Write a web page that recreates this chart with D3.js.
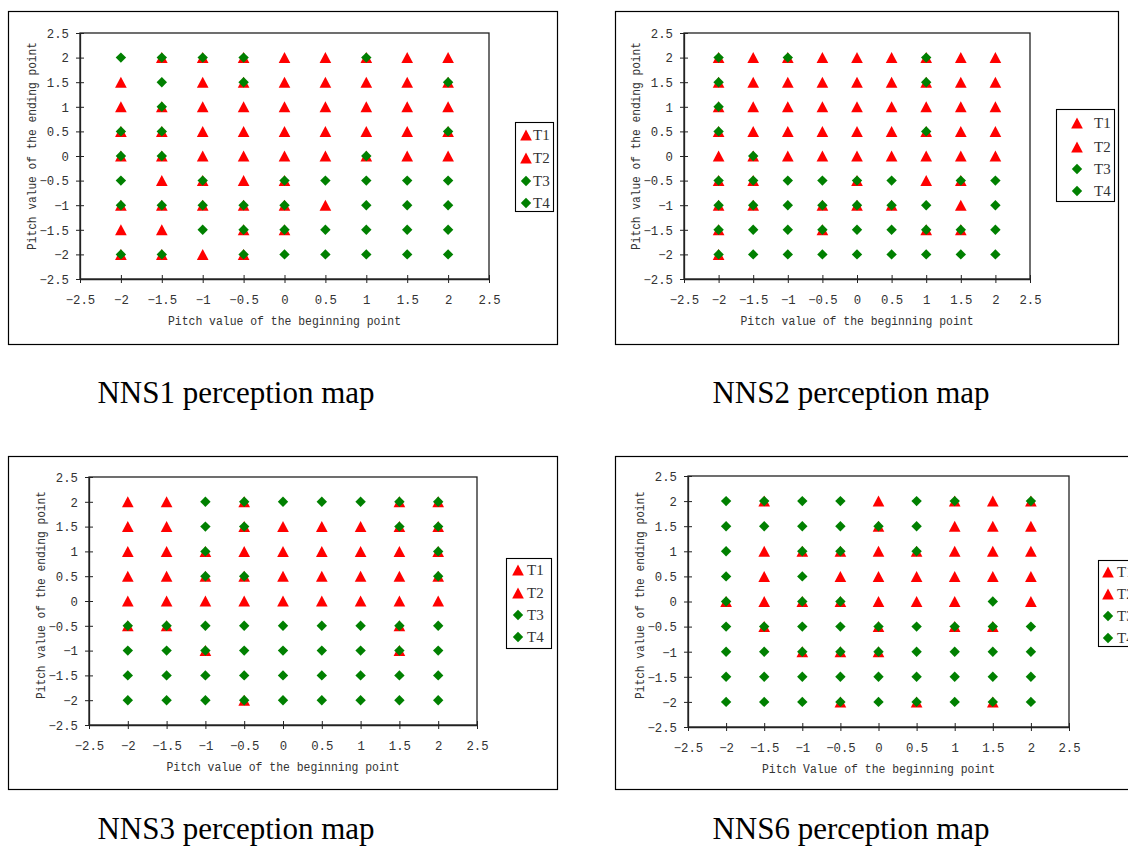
<!DOCTYPE html>
<html>
<head>
<meta charset="utf-8">
<script src="https://cdn.jsdelivr.net/npm/d3@7"></script>
<style>
  html, body { margin: 0; padding: 0; background: #fff; }
  svg { display: block; }
  .tick-text { font-family: "Liberation Mono", "DejaVu Sans Mono", monospace; font-size: 12.3px; fill: #333; }
  .axis-title { font-family: "Liberation Mono", "DejaVu Sans Mono", monospace; font-size: 12.3px; fill: #333; }
  .legend-text { font-family: "Liberation Serif", serif; font-size: 15px; fill: #333; }
  .panel-title { font-family: "Liberation Serif", "Times New Roman", serif; font-size: 31px; fill: #000; }
</style>
</head>
<body>
<div id="chart"></div>
<script>
// Stimulus grid: pitch value of beginning point (x) and ending point (y)
const beginValues = [-2, -1.5, -1, -0.5, 0, 0.5, 1, 1.5, 2];
const endValues = [2, 1.5, 1, 0.5, 0, -0.5, -1, -1.5, -2];

// Axis ticks and their labels
const axisTicks = [-2.5, -2, -1.5, -1, -0.5, 0, 0.5, 1, 1.5, 2, 2.5];
const axisTickLabels = ["−2.5", "−2", "−1.5", "−1", "−0.5", "0", "0.5", "1", "1.5", "2", "2.5"];

// Legend entries
const toneNames = ["T1", "T2", "T3", "T4"];
const toneShapes = ["triangle", "triangle", "diamond", "diamond"];

// Perceived tone per stimulus, one string per ending value (rows 2 .. -2),
// one character per beginning value (-2 .. 2):
// T = perceived as T1/T2, D = perceived as T3/T4, B = both responses
const nns1Map = [
  "DBBBTTBTT",
  "TDTBTTTTB",
  "TBTTTTTTT",
  "BBTTTTTTB",
  "BBTTTTBTT",
  "DTBTBDDDD",
  "BBBBBTDDD",
  "TTDBBDDDD",
  "BBTBDDDDD"
];
const nns2Map = [
  "BTBTTTBTT",
  "BTTTTTBTT",
  "BTTTTTTTT",
  "BTTTTTBTT",
  "TBTTTTTTT",
  "BBDDBDTBD",
  "BBDBBBDTD",
  "BDDBDDBBD",
  "BDDDDDDDD"
];
const nns3Map = [
  "TTDBDDDBB",
  "TTDBTTTBB",
  "TTBTTTTTB",
  "TTBBTTTTB",
  "TTTTTTTTT",
  "BBDDDDDBD",
  "DDBDDDDBD",
  "DDDDDDDDD",
  "DDDBDDDDD"
];
const nns6Map = [
  "DBDDTDBTB",
  "DDDDBDTTT",
  "DTBBTBTTT",
  "DTDTTTTTT",
  "BTBBTTTDT",
  "DBDDBDBBD",
  "DDBBBDDDD",
  "DDDDDDDDD",
  "DDDBDBDBD"
];

const panelTitles = ["NNS1 perception map", "NNS2 perception map", "NNS3 perception map", "NNS6 perception map"];
const xAxisTitles = [
  "Pitch value of the beginning point",
  "Pitch value of the beginning point",
  "Pitch value of the beginning point",
  "Pitch Value of the beginning point"
];
const yAxisTitle = "Pitch value of the ending point";
const panelMaps = [nns1Map, nns2Map, nns3Map, nns6Map];

// Page layout for the four panels
const layouts = [
  { frame: [8, 11, 557, 344], plot: [80, 33, 489, 279], legend: { x0: 515, y0: 122, x1: 553, y1: 211, sym: 526, txt: 533, rows: [135, 158, 181, 203] }, title: [236, 403], yTitleY: 146 },
  { frame: [615, 11, 1118, 344], plot: [684, 33, 1030, 279], legend: { x0: 1056, y0: 109, x1: 1114, y1: 201, sym: 1077, txt: 1094, rows: [123, 147, 169, 191] }, title: [851, 403], yTitleY: 146 },
  { frame: [8, 456, 557, 789], plot: [89, 477, 477, 725], legend: { x0: 506, y0: 558, x1: 551, y1: 648, sym: 518, txt: 527, rows: [570, 593, 615, 637] }, title: [236, 839], yTitleY: 595 },
  { frame: [615, 456, 1140, 789], plot: [688, 476, 1069, 727], legend: { x0: 1098, y0: 560, x1: 1140, y1: 646, sym: 1108, txt: 1117, rows: [572, 594, 616, 638] }, title: [851, 839], yTitleY: 595 }
];

const RED = "#ff0000";
const GREEN = "#008000";

// Triangle symbol centred on its bounding box, diamond as a square turned 45 degrees
const boxTriangle = {
  draw(ctx, size) {
    const h = Math.sqrt(size);
    ctx.moveTo(0, -h / 2);
    ctx.lineTo(h * 0.53, h / 2);
    ctx.lineTo(-h * 0.53, h / 2);
    ctx.closePath();
  }
};
const squareDiamond = {
  draw(ctx, size) {
    const r = Math.sqrt(size) / 2;
    ctx.moveTo(0, -r);
    ctx.lineTo(r, 0);
    ctx.lineTo(0, r);
    ctx.lineTo(-r, 0);
    ctx.closePath();
  }
};
const triPath = d3.symbol().type(boxTriangle).size(11 * 11)();
const diaPath = d3.symbol().type(squareDiamond).size(10.4 * 10.4)();

const svg = d3.select("#chart").append("svg")
  .attr("width", 1128).attr("height", 846)
  .attr("viewBox", "0 0 1128 846");
svg.append("rect").attr("width", 1128).attr("height", 846).attr("fill", "#fff");

const labelOf = v => axisTickLabels[axisTicks.indexOf(v)];

layouts.forEach((L, i) => {
  const g = svg.append("g");
  const [fx0, fy0, fx1, fy1] = L.frame;
  const [px0, py0, px1, py1] = L.plot;

  g.append("rect")
    .attr("x", fx0 + 0.5).attr("y", fy0 + 0.5)
    .attr("width", fx1 - fx0).attr("height", fy1 - fy0)
    .attr("fill", "#fff").attr("stroke", "#000").attr("stroke-width", 1.2);

  const x = d3.scaleLinear().domain([-2.5, 2.5]).range([px0, px1]);
  const y = d3.scaleLinear().domain([-2.5, 2.5]).range([py1, py0]);

  // plot area border
  g.append("rect")
    .attr("x", px0).attr("y", py0)
    .attr("width", px1 - px0).attr("height", py1 - py0)
    .attr("fill", "none").attr("stroke", "#222").attr("stroke-width", 1.3);

  // x axis with ticks crossing the line
  const xAxis = g.append("g")
    .attr("transform", `translate(0,${py1})`)
    .call(d3.axisBottom(x).tickValues(axisTicks).tickFormat(labelOf).tickSize(4).tickSizeOuter(0));
  xAxis.select(".domain").attr("stroke", "#222").attr("stroke-width", 1.3);
  xAxis.selectAll(".tick line").attr("y1", -4).attr("y2", 4).attr("stroke", "#222");
  xAxis.selectAll(".tick text").attr("class", "tick-text").attr("y", 21).attr("dy", "0.35em").attr("fill", null);
  xAxis.attr("font-family", null).attr("font-size", null);

  const yAxis = g.append("g")
    .attr("transform", `translate(${px0},0)`)
    .call(d3.axisLeft(y).tickValues(axisTicks).tickFormat(labelOf).tickSize(4).tickSizeOuter(0));
  yAxis.select(".domain").attr("stroke", "#222").attr("stroke-width", 1.3);
  yAxis.selectAll(".tick line").attr("x1", -4).attr("x2", 4).attr("stroke", "#222");
  yAxis.selectAll(".tick text").attr("class", "tick-text").attr("x", -11).attr("dy", "0.35em").attr("fill", null);
  yAxis.attr("font-family", null).attr("font-size", null);

  // axis titles
  g.append("text").attr("class", "axis-title")
    .attr("x", (px0 + px1) / 2).attr("y", py1 + 42).attr("dy", "0.35em")
    .attr("text-anchor", "middle")
    .attr("textLength", 233).attr("lengthAdjust", "spacingAndGlyphs")
    .text(xAxisTitles[i]);
  g.append("text").attr("class", "axis-title")
    .attr("transform", `translate(${px0 - 48},${L.yTitleY}) rotate(-90)`)
    .attr("dy", "0.35em").attr("text-anchor", "middle")
    .attr("textLength", 208).attr("lengthAdjust", "spacingAndGlyphs")
    .text(yAxisTitle);

  // responses
  const cells = [];
  panelMaps[i].forEach((row, r) => {
    row.split("").forEach((code, c) => {
      cells.push({ begin: beginValues[c], end: endValues[r], code });
    });
  });
  g.append("g").selectAll("path")
    .data(cells.filter(d => d.code === "T" || d.code === "B"))
    .join("path")
    .attr("d", triPath)
    .attr("transform", d => `translate(${x(d.begin)},${y(d.end)})`)
    .attr("fill", RED);
  g.append("g").selectAll("path")
    .data(cells.filter(d => d.code === "D" || d.code === "B"))
    .join("path")
    .attr("d", diaPath)
    .attr("transform", d => `translate(${x(d.begin)},${y(d.end)})`)
    .attr("fill", GREEN);

  // legend
  const lg = L.legend;
  g.append("rect")
    .attr("x", lg.x0 + 0.5).attr("y", lg.y0 + 0.5)
    .attr("width", lg.x1 - lg.x0).attr("height", lg.y1 - lg.y0)
    .attr("fill", "#fff").attr("stroke", "#000").attr("stroke-width", 1.1);
  toneNames.forEach((name, k) => {
    g.append("path")
      .attr("d", toneShapes[k] === "triangle" ? triPath : diaPath)
      .attr("transform", `translate(${lg.sym},${lg.rows[k]})`)
      .attr("fill", toneShapes[k] === "triangle" ? RED : GREEN);
    g.append("text").attr("class", "legend-text")
      .attr("x", lg.txt).attr("y", lg.rows[k]).attr("dy", "0.35em")
      .text(name);
  });

  // panel caption
  svg.append("text").attr("class", "panel-title")
    .attr("x", L.title[0]).attr("y", L.title[1])
    .attr("text-anchor", "middle").text(panelTitles[i]);
});
</script>
</body>
</html>
